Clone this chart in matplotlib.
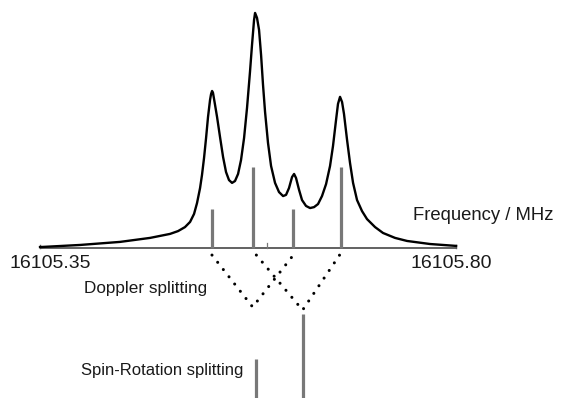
import matplotlib
matplotlib.use("Agg")
import matplotlib.pyplot as plt

plt.rcParams['font.family'] = ['Liberation Sans', 'DejaVu Sans']

# spectrum (MHz, relative intensity)
freq = [16105.3500, 16105.3933, 16105.4365, 16105.4690, 16105.4906, 16105.4993,
        16105.5068, 16105.5123, 16105.5166, 16105.5198, 16105.5231, 16105.5252,
        16105.5274, 16105.5296, 16105.5317, 16105.5339, 16105.5350, 16105.5361,
        16105.5371, 16105.5393, 16105.5415, 16105.5447, 16105.5480, 16105.5512,
        16105.5544, 16105.5577, 16105.5609, 16105.5642, 16105.5674, 16105.5707,
        16105.5739, 16105.5771, 16105.5793, 16105.5815, 16105.5826, 16105.5847,
        16105.5869, 16105.5891, 16105.5912, 16105.5934, 16105.5966, 16105.5999,
        16105.6042, 16105.6085, 16105.6129, 16105.6161, 16105.6193, 16105.6226,
        16105.6248, 16105.6269, 16105.6302, 16105.6334, 16105.6377, 16105.6421,
        16105.6464, 16105.6507, 16105.6550, 16105.6594, 16105.6637, 16105.6669,
        16105.6702, 16105.6723, 16105.6745, 16105.6767, 16105.6788, 16105.6821,
        16105.6853, 16105.6886, 16105.6929, 16105.6983, 16105.7037, 16105.7124,
        16105.7210, 16105.7340, 16105.7470, 16105.7719, 16105.8000]
intensity = [0.004, 0.013, 0.026, 0.043, 0.060, 0.072,
             0.089, 0.111, 0.145, 0.191, 0.255, 0.311,
             0.383, 0.468, 0.557, 0.630, 0.655, 0.668,
             0.660, 0.609, 0.557, 0.472, 0.387, 0.323,
             0.289, 0.277, 0.285, 0.315, 0.374, 0.468,
             0.596, 0.749, 0.864, 0.970, 1.000, 0.979,
             0.928, 0.821, 0.694, 0.579, 0.447, 0.349,
             0.277, 0.238, 0.221, 0.226, 0.255, 0.302,
             0.315, 0.298, 0.247, 0.204, 0.179, 0.170,
             0.174, 0.187, 0.221, 0.272, 0.349, 0.434,
             0.545, 0.613, 0.643, 0.621, 0.570, 0.460,
             0.362, 0.277, 0.204, 0.157, 0.123, 0.089,
             0.064, 0.043, 0.030, 0.017, 0.009]

# Doppler components
doppler_freq = [16105.536, 16105.580, 16105.624, 16105.676]
doppler_height = [0.166, 0.345, 0.166, 0.345]
center_freq = 16105.596

# spin-rotation components (drawn below the axis)
sr_freq = [16105.584, 16105.634]
sr_top = [-0.472, -0.281]

# dotted V's: (start of left arm, vertex, start of right arm)
v_left = [16105.536, 16105.584]
v_vertex = [16105.580, 16105.634]
v_right = [16105.624, 16105.674]
v_top = -0.03
v_depth = [-0.251, -0.264]

x_ends = [16105.35, 16105.80]
tick_labels = ['16105.35', '16105.80']

fig = plt.figure(figsize=(5.62, 3.98), dpi=100)
ax = fig.add_axes([0, 0, 1, 1])
ax.set_xlim(16105.3067, 16105.9146)
ax.set_ylim(-0.638, 1.055)
ax.axis('off')

stick_col = '#787878'
txt_col = '#1a1a1a'

# frequency axis
ax.plot(x_ends, [0, 0], color='#555555', lw=1.3, solid_capstyle='butt')
for xt in x_ends:
    ax.plot([xt, xt], [0, 0.012], color='#555555', lw=1.0)
ax.text(x_ends[0] - 0.0325, -0.064, tick_labels[0], ha='left', va='center',
        fontsize=14, color=txt_col)
ax.text(x_ends[1] + 0.0389, -0.064, tick_labels[1], ha='right', va='center',
        fontsize=14, color=txt_col)

ax.plot(freq, intensity, color='black', lw=1.7, solid_joinstyle='round')

for f, h in zip(doppler_freq, doppler_height):
    ax.plot([f, f], [0, h], color=stick_col, lw=2.3, solid_capstyle='butt')
ax.plot([center_freq, center_freq], [0, 0.022], color=stick_col, lw=0.9)

for a, v, b, d in zip(v_left, v_vertex, v_right, v_depth):
    ax.plot([a, v, b], [v_top, d, v_top], color='black', lw=2.2,
            linestyle=(0, (0.01, 3.0)), dash_capstyle='round')

for f, t in zip(sr_freq, sr_top):
    ax.plot([f, f], [t, -0.7], color=stick_col, lw=2.3, solid_capstyle='butt')

ax.text(16105.7535, 0.14, 'Frequency / MHz', ha='left', va='center',
        fontsize=13.3, color=txt_col)
ax.text(16105.5306, -0.172, 'Doppler splitting', ha='right', va='center',
        fontsize=12.3, color=txt_col)
ax.text(16105.5696, -0.522, 'Spin-Rotation splitting', ha='right', va='center',
        fontsize=12, color=txt_col)

fig.savefig('out.png', dpi=100)
